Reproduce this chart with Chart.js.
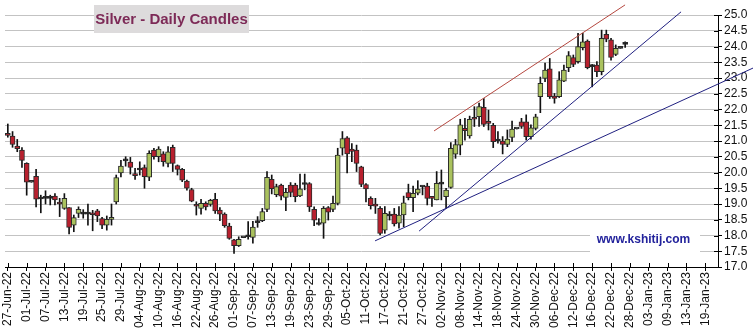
<!DOCTYPE html>
<html><head><meta charset="utf-8">
<script src="https://cdn.jsdelivr.net/npm/chart.js@4"></script>
<style>html,body{margin:0;padding:0;background:#fff;}canvas{display:block;}</style>
</head><body>
<canvas id="c" width="753" height="334"></canvas>
<script>
// weekday index 0 = 27-Jun-22
const tickIndex = [0,4,8,12,16,20,24,28,32,36,40,44,48,52,56,60,64,68,72,76,80,84,88,92,96,100,104,108,112,116,120,124,128,132,136,140,144,148];
const tickLabels = ['27-Jun-22','01-Jul-22','07-Jul-22','13-Jul-22','19-Jul-22','25-Jul-22','29-Jul-22','04-Aug-22','10-Aug-22','16-Aug-22','22-Aug-22','26-Aug-22','01-Sep-22','07-Sep-22','13-Sep-22','19-Sep-22','23-Sep-22','29-Sep-22','05-Oct-22','11-Oct-22','17-Oct-22','21-Oct-22','27-Oct-22','02-Nov-22','08-Nov-22','14-Nov-22','18-Nov-22','24-Nov-22','30-Nov-22','06-Dec-22','12-Dec-22','16-Dec-22','22-Dec-22','28-Dec-22','03-Jan-23','09-Jan-23','13-Jan-23','19-Jan-23'];
const yTicks = [17.0,17.5,18.0,18.5,19.0,19.5,20.0,20.5,21.0,21.5,22.0,22.5,23.0,23.5,24.0,24.5,25.0];

const openP = [21.20,21.16,20.84,20.71,20.29,19.69,19.88,19.16,19.18,19.18,
 19.25,19.05,18.86,18.89,18.33,18.70,18.68,18.68,18.67,18.78,
 18.54,18.33,18.51,19.07,19.99,20.37,20.33,19.93,20.08,20.16,
 19.85,20.71,20.50,20.59,20.29,20.80,20.22,20.10,19.73,19.46,
 18.96,18.86,19.02,18.99,19.15,18.81,18.68,18.30,17.86,17.68,
 17.93,17.96,17.94,18.41,18.47,18.83,19.78,19.30,19.60,19.21,
 19.60,19.60,19.26,19.62,19.65,18.83,18.35,18.39,18.89,18.83,
 19.02,20.77,21.10,20.74,20.71,20.18,19.62,19.18,19.00,18.86,
 18.17,18.62,18.68,18.39,18.65,19.36,19.20,19.34,19.54,19.57,
 19.20,19.13,19.63,19.23,19.53,20.58,20.87,21.40,21.16,21.75,
 21.77,22.07,21.62,21.50,21.00,21.00,20.89,21.11,21.38,21.61,
 21.61,21.14,21.40,22.41,22.99,23.29,22.43,22.41,22.90,23.33,
 23.65,23.52,23.96,24.17,23.36,23.41,23.20,24.39,24.21,23.75,
 23.94,24.07];
const highP = [21.54,21.30,21.05,20.79,20.31,19.69,20.10,19.28,19.42,19.28,
 19.33,19.18,19.33,18.89,18.65,18.91,18.82,19.00,18.80,18.83,
 18.58,18.62,19.00,19.92,20.39,20.50,20.48,20.13,20.34,20.24,
 20.69,20.77,20.82,20.66,20.82,20.87,20.24,20.13,19.76,19.50,
 19.07,19.15,19.07,19.15,19.34,18.89,18.72,18.39,17.88,17.96,
 17.93,18.44,18.45,18.60,18.86,20.03,19.92,19.63,19.63,19.50,
 19.68,19.66,19.95,19.95,19.68,18.91,18.54,18.92,18.92,19.25,
 20.77,21.30,21.14,20.92,20.87,20.20,19.65,19.23,19.18,18.92,
 18.92,18.76,18.86,18.92,19.25,19.63,19.57,19.74,19.57,19.66,
 19.23,20.03,20.08,19.50,20.95,21.05,21.69,21.72,21.79,22.09,
 22.20,22.35,21.98,21.56,21.30,21.14,21.35,21.63,21.38,21.72,
 21.83,21.51,21.85,23.03,23.47,23.62,22.51,23.20,23.41,23.84,
 23.73,24.42,24.42,24.21,23.43,23.52,24.52,24.52,24.26,24.05,
 23.94,24.15];
const lowP = [21.12,20.80,20.66,20.16,19.28,19.69,18.91,18.72,19.00,18.97,
 18.97,18.60,18.83,18.05,18.12,18.57,18.55,18.33,18.15,18.44,
 18.22,18.17,18.33,19.00,19.86,20.20,19.95,19.78,19.92,19.50,
 19.74,20.42,20.34,20.20,20.18,20.03,19.92,19.71,19.44,19.07,
 18.65,18.68,18.81,18.93,18.70,18.47,18.26,17.88,17.43,17.65,
 17.93,17.88,17.76,18.26,18.44,18.76,19.32,19.23,19.13,18.79,
 19.23,19.07,19.23,19.45,18.76,18.31,18.33,17.91,18.49,18.76,
 18.97,20.55,19.99,20.34,20.03,19.55,19.07,18.84,18.70,18.02,
 18.07,18.49,18.30,18.23,18.28,19.13,18.76,19.29,19.29,18.97,
 18.92,19.13,19.13,18.86,19.50,20.45,20.56,21.03,21.09,21.46,
 21.46,21.46,21.35,20.79,20.93,20.59,20.82,20.98,21.38,21.40,
 21.03,21.06,21.35,21.90,22.88,22.35,22.20,22.38,22.88,23.20,
 23.36,23.47,23.89,23.29,22.72,23.04,23.10,24.15,23.57,23.71,
 23.94,23.97];
const closeP = [21.18,20.89,20.76,20.38,19.69,19.69,19.15,19.16,19.18,19.18,
 19.13,19.00,19.18,18.26,18.57,18.83,18.68,18.68,18.66,18.62,
 18.33,18.51,18.57,19.84,20.20,20.37,20.16,19.90,20.08,19.87,
 20.61,20.50,20.74,20.34,20.66,20.29,20.10,19.76,19.50,19.09,
 18.93,19.02,18.91,19.12,18.78,18.68,18.31,17.91,17.68,17.88,
 17.93,17.96,18.27,18.41,18.76,19.85,19.49,19.55,19.25,19.37,
 19.37,19.23,19.48,19.62,18.91,18.49,18.35,18.86,18.74,19.02,
 20.55,21.08,20.59,20.67,20.29,19.62,19.48,18.95,18.93,18.07,
 18.70,18.62,18.37,18.65,19.04,19.20,19.34,19.47,19.54,19.18,
 19.18,19.66,19.63,19.44,20.77,20.89,21.51,21.33,21.69,21.69,
 22.09,21.53,21.56,20.98,21.00,20.89,21.06,21.38,21.38,21.46,
 21.14,21.42,21.77,22.83,23.25,22.41,22.35,22.94,23.25,23.71,
 23.43,24.00,24.15,23.33,23.36,23.20,24.26,24.23,23.65,23.94,
 23.94,24.07];

// trend lines: [weekday index, price]
const redTrend = [[90.45,21.32],[130.98,25.32]];
const steepTrend = [[87.27,18.14],[142.86,25.10]];
const shallowTrend = [[77.93,17.83],[158.2,23.32]];

const UP = '#aac25e', DOWN = '#b8202e', FLAT = '#1a1a1a';
const bodies = openP.map((o,i)=>({x:i, y:[o, closeP[i]]}));
const wicks = highP.map((h,i)=>({x:i, y:[lowP[i], h]}));
const bodyColors = openP.map((o,i)=> closeP[i]>o ? UP : (closeP[i]<o ? DOWN : FLAT));
const pts = arr => arr.map(p=>({x:p[0], y:p[1]}));

const innerTicks = {
  id:'innerTicks',
  afterDraw(chart){
    const {ctx, chartArea:a, scales:{x,y}} = chart;
    ctx.save(); ctx.strokeStyle='#000'; ctx.lineWidth=1; ctx.beginPath();
    x.ticks.forEach(t=>{const px=Math.round(x.getPixelForValue(t.value))+0.5; ctx.moveTo(px,a.bottom); ctx.lineTo(px,a.bottom-4);});
    y.ticks.forEach(t=>{const py=Math.round(y.getPixelForValue(t.value))+0.5; ctx.moveTo(a.right,py); ctx.lineTo(a.right-4,py);});
    ctx.stroke(); ctx.restore();
  }
};
const overlays = {
  id:'overlays',
  beforeDatasetsDraw(chart){
    const ctx = chart.ctx;
    ctx.save();
    ctx.fillStyle = '#dddbdc';
    ctx.fillRect(94,5,155,28);
    ctx.fillStyle = '#7d2a57';
    ctx.font = 'bold 15px "Liberation Sans", Arial, sans-serif';
    ctx.textAlign = 'center'; ctx.textBaseline = 'middle';
    ctx.fillText('Silver - Daily Candles', 171.5, 19.5);
    ctx.fillStyle = '#ffffff';
    ctx.fillRect(590,226,110,31);
    ctx.fillStyle = '#23239c';
    ctx.font = 'bold 12px "Liberation Sans", Arial, sans-serif';
    ctx.fillText('www.kshitij.com', 643.5, 240);
    ctx.restore();
  }
};

Chart.defaults.font.family = '"Liberation Sans", Arial, sans-serif';
new Chart(document.getElementById('c'), {
  type:'bar',
  data:{datasets:[
    {type:'line', data:pts(redTrend), borderColor:'#b5473f', borderWidth:1, pointRadius:0, clip:false, order:-1, tension:0},
    {type:'line', data:pts(steepTrend), borderColor:'#202080', borderWidth:1, pointRadius:0, clip:false, order:-1, tension:0},
    {type:'line', data:pts(shallowTrend), borderColor:'#202080', borderWidth:1, pointRadius:0, clip:false, order:-1, tension:0},
    {data:bodies, backgroundColor:bodyColors, borderColor:'#2a2a2a', borderWidth:1, borderSkipped:false, barThickness:5, minBarLength:2, grouped:false, order:0},
    {data:wicks, backgroundColor:'#111', borderWidth:0, barThickness:1, grouped:false, order:1}
  ]},
  options:{
    responsive:false, animation:false, devicePixelRatio:1,
    layout:{padding:{left:5, top:15, right:0, bottom:0}},
    plugins:{legend:{display:false}, tooltip:{enabled:false}, title:{display:false}},
    scales:{
      x:{type:'linear', min:-0.6, max:150.7, offset:false,
        grid:{drawOnChartArea:false, drawTicks:true, tickLength:4, tickColor:'#000', offset:false},
        border:{color:'#000'},
        afterBuildTicks: s=>{ s.ticks = tickIndex.map(v=>({value:v})); },
        ticks:{autoSkip:false, maxRotation:90, minRotation:90, padding:1, color:'#111', font:{size:12},
          callback:(v)=>{ const k = tickIndex.indexOf(v); return k>=0 ? tickLabels[k] : ''; }},
        afterFit: s=>{ s.height = 67; s.paddingLeft = 0; s.paddingRight = 0; }
      },
      y:{position:'right', min:17, max:25,
        afterBuildTicks: s=>{ s.ticks = yTicks.map(v=>({value:v})); },
        ticks:{autoSkip:false, padding:2, color:'#111', font:{size:12}, callback:v=>Number(v).toFixed(1)},
        grid:{color:'#c3c3c3', tickColor:'#000', tickLength:4},
        border:{color:'#000'},
        afterFit: s=>{ s.width = 35; s.paddingTop = 0; s.paddingBottom = 0; }
      }
    }
  },
  plugins:[overlays, innerTicks]
});
</script>
</body></html>
